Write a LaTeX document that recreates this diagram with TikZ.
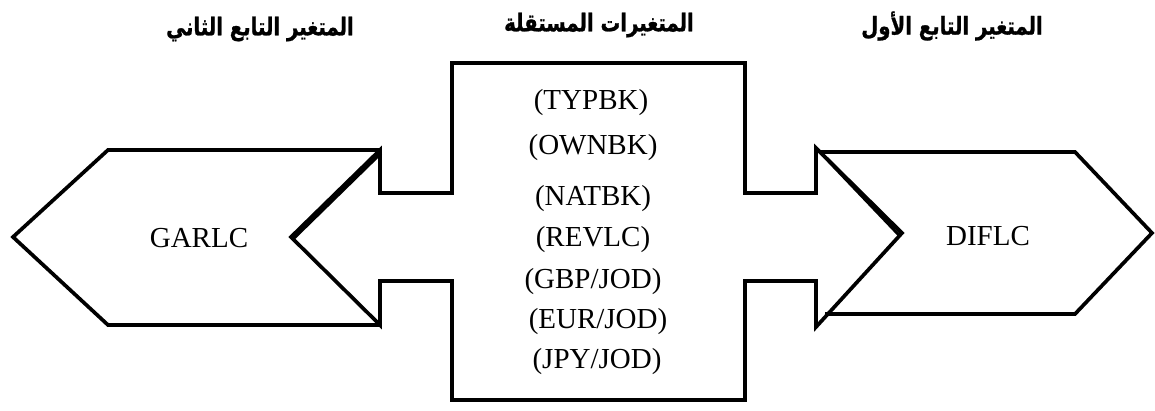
\documentclass[tikz,border=0pt]{standalone}
\usepackage{fontspec}
\setmainfont{Liberation Serif}
\newfontfamily\arabicfont[Script=Arabic, FakeStretch=0.8, FakeBold=1]{DejaVu Sans}
\TeXXeTstate=1
\usetikzlibrary{positioning}

\tikzset{
  outline/.style={line width=2.1pt, line join=miter},
  varname/.style={font=\fontsize{16.5}{19}\selectfont, inner sep=0pt},
  heading/.style={font=\arabicfont\bfseries\fontsize{14}{16}\selectfont, inner sep=0pt}
}

\begin{document}
\begin{tikzpicture}[x=0.02cm, y=-0.02cm]
      \useasboundingbox (0,0) rectangle (1155,411);

      % headings
      \node[heading] (hsecond) at (260,29) {\beginR المتغير التابع الثاني\endR};
      \node[heading] (hindep) at (599,25) {\beginR المتغيرات المستقلة\endR};
      \node[heading] (hfirst) at (952,26) {\beginR المتغير التابع الأول\endR};

      % left and right chevrons
      \draw[outline] (380,150) -- (108,150) -- (13,237) -- (108,325) -- (380,325);
      \draw[outline] (820,152) -- (1075,152) -- (1152,233) -- (1075,314) -- (825,314);

      % cross with two arrow heads
      \draw[outline] (452,193) -- (452,63) -- (745,63) -- (745,193) -- (816,193)
        -- (816,148) -- (902,233) -- (816,327) -- (816,281) -- (745,281)
        -- (745,400) -- (452,400) -- (452,281) -- (380,281) -- (380,325)
        -- (291,237) -- (380,150) -- (380,193) -- cycle;
      \draw[line width=1.8pt] (381,153) -- (294,238);
      \draw[line width=1.8pt] (818,150) -- (899,235);

      \node[varname] (garlc) at (199,238) {GARLC};
      \node[varname] (diflc) at (988,236) {DIFLC};

      \node[varname] (typbk) at (591,103) {(TYPBK)};
      \node[varname] (ownbk) at (593,148) {(OWNBK)};
      \node[varname] (natbk) at (593,199) {(NATBK)};
      \node[varname] (revlc) at (593,240) {(REVLC)};
      \node[varname] (gbp) at (593,282) {(GBP/JOD)};
      \node[varname] (eur) at (598,322) {(EUR/JOD)};
      \node[varname] (jpy) at (597,362) {(JPY/JOD)};
\end{tikzpicture}
\end{document}
